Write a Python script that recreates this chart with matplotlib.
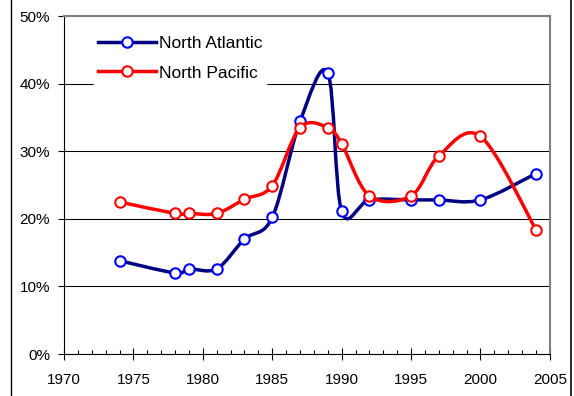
import matplotlib.pyplot as plt
import matplotlib.ticker as mticker
from matplotlib.path import Path
from matplotlib.patches import PathPatch
from matplotlib.lines import Line2D

plt.rcParams['font.family'] = ['Liberation Sans', 'DejaVu Sans']

atl_years = [1974, 1978, 1979, 1981, 1983, 1985, 1987, 1989, 1990, 1992, 1995, 1997, 2000, 2004]
atl_share = [0.138, 0.120, 0.126, 0.126, 0.170, 0.202, 0.344, 0.416, 0.211, 0.228, 0.228, 0.228, 0.228, 0.267]

pac_years = [1974, 1978, 1979, 1981, 1983, 1985, 1987, 1989, 1990, 1992, 1995, 1997, 2000, 2004]
pac_share = [0.225, 0.208, 0.208, 0.208, 0.229, 0.249, 0.335, 0.335, 0.311, 0.234, 0.234, 0.293, 0.322, 0.184]

x_ticks = list(range(1970, 2006, 5))
y_ticks = [0, 0.1, 0.2, 0.3, 0.4, 0.5]


def smooth_path(xs, ys):
    # excel style smoothed line: catmull-rom as cubic bezier segments
    pts = list(zip(xs, ys))
    verts = [pts[0]]
    codes = [Path.MOVETO]
    n = len(pts)
    for i in range(n - 1):
        p0 = pts[i - 1] if i > 0 else pts[i]
        p1 = pts[i]
        p2 = pts[i + 1]
        p3 = pts[i + 2] if i + 2 < n else pts[i + 1]
        c1 = (p1[0] + (p2[0] - p0[0]) / 6, p1[1] + (p2[1] - p0[1]) / 6)
        c2 = (p2[0] - (p3[0] - p1[0]) / 6, p2[1] - (p3[1] - p1[1]) / 6)
        verts += [c1, c2, p2]
        codes += [Path.CURVE4] * 3
    return Path(verts, codes)


fig = plt.figure(figsize=(5.74, 3.96), dpi=100)
ax = fig.add_axes([0.1115, 0.106, 0.8465, 0.8535])

series = [
    (atl_years, atl_share, '#000080', '#0000FF', 'North Atlantic'),
    (pac_years, pac_share, '#FF0000', '#FF0000', 'North Pacific'),
]
handles = []
for i, (xs, ys, lc, mc, name) in enumerate(series):
    ax.add_patch(PathPatch(smooth_path(xs, ys), facecolor='none', edgecolor=lc,
                           lw=2.5, capstyle='round', joinstyle='round', zorder=3 + i))
    ax.plot(xs, ys, ls='none', marker='o', ms=7.5, mfc='white', mec=mc, mew=1.5, zorder=3 + i)
    handles.append(Line2D([], [], color=lc, lw=2.5, marker='o', ms=7.5,
                          mfc='white', mec=mc, mew=1.5, label=name))

ax.set_xlim(1970, 2005)
ax.set_ylim(0, 0.5)
ax.set_xticks(x_ticks)
ax.xaxis.set_minor_locator(mticker.MultipleLocator(1))
ax.set_yticks(y_ticks)
ax.yaxis.set_major_formatter(mticker.PercentFormatter(1.0, decimals=0))
ax.grid(axis='y', color='black', lw=0.75)
ax.set_axisbelow(True)

ax.tick_params(axis='x', which='major', direction='inout', length=8, width=0.8, labelsize=11, pad=10)
ax.tick_params(axis='x', which='minor', direction='in', length=3, width=0.8)
ax.tick_params(axis='y', direction='out', length=4, width=0.8, labelsize=11, pad=6)

for side in ['top', 'right']:
    ax.spines[side].set_color('#808080')
    ax.spines[side].set_linewidth(1.5)
for side in ['left', 'bottom']:
    ax.spines[side].set_color('black')
    ax.spines[side].set_linewidth(0.8)

leg = ax.legend(handles=handles, loc='upper left', bbox_to_anchor=(0.06, 0.958),
                frameon=True, fontsize=12.5, handlelength=3.3, handletextpad=0.2,
                labelspacing=0.85, borderpad=0.3, borderaxespad=0)
leg.get_frame().set_facecolor('white')
leg.get_frame().set_edgecolor('none')
leg.get_frame().set_alpha(1)

# outer frame edges of the original image
fig.add_artist(Line2D([11 / 574, 11 / 574], [0, 1], color='black', lw=1, transform=fig.transFigure))
fig.add_artist(Line2D([571 / 574, 571 / 574], [0, 1], color='#333333', lw=1.5, transform=fig.transFigure))

fig.savefig('out.png', dpi=100)
